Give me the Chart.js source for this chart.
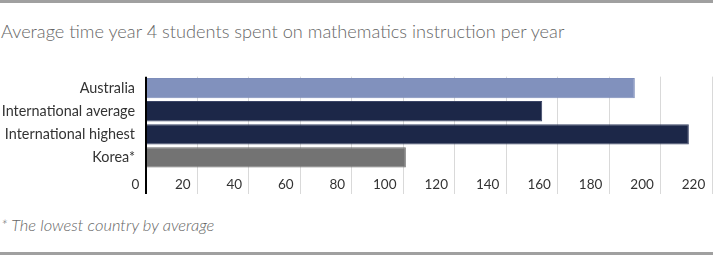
<!DOCTYPE html>
<html>
<head>
<meta charset="utf-8">
<script src="https://cdn.jsdelivr.net/npm/chart.js@4.4.0/dist/chart.umd.min.js"></script>
<style>
  body { margin: 0; background: #fff; }
  #frame { position: relative; width: 713px; height: 255px; box-sizing: border-box;
           border-top: 3px solid #a0a0a0; border-bottom: 3px solid #a0a0a0; }
  #title { position: absolute; left: 1px; top: 17px; font: 300 18.2px Lato, sans-serif; color: #666; white-space: nowrap; }
  #note { position: absolute; left: 1px; top: 212px; font: italic 300 16.5px Lato, sans-serif; color: #666; white-space: nowrap; }
  #box { position: absolute; left: 0; top: 57px; width: 718px; height: 140px; }
</style>
</head>
<body>
<div id="frame">
  <div id="title">Average time year 4 students spent on mathematics instruction per year</div>
  <div id="note">* The lowest country by average</div>
</div>
<div id="box"><canvas id="chart"></canvas></div>
<script>
var categories = ['Australia', 'International average', 'International highest', 'Korea*'];
var hours = [190, 154, 211, 101];
var barColors = ['#8191bd', '#1c2748', '#1c2748', '#737373'];
var edgeColors = ['#7d8dba', '#3a4466', '#3a4466', '#6e6e6e'];
var axisMin = 0;
var axisMax = 220;
var axisStep = 20;

var ctx = document.getElementById('chart').getContext('2d');
var myChart = new Chart(ctx, {
    type: 'bar',
    data: {
        labels: categories,
        datasets: [{
            data: hours,
            backgroundColor: barColors,
            borderColor: edgeColors,
            borderWidth: 1,
            categoryPercentage: 1,
            barPercentage: 0.88
        }]
    },
    options: {
        indexAxis: 'y',
        responsive: true,
        maintainAspectRatio: false,
        animation: false,
        layout: { padding: { top: 3, right: 6, left: 0, bottom: 0 } },
        plugins: {
            legend: { display: false },
            tooltip: { enabled: false }
        },
        scales: {
            x: {
                min: axisMin,
                max: axisMax,
                ticks: {
                    stepSize: axisStep,
                    align: 'end',
                    padding: -17,
                    color: '#333',
                    font: { family: 'Lato', size: 13.5 },
                    maxRotation: 0,
                    callback: function(v){ return v + '\u2002'; }
                },
                grid: {
                    color: function(c){ return c.index === 0 ? '#000' : '#d9d9d9'; },
                    lineWidth: function(c){ return c.index === 0 ? 2 : 1; },
                    tickLength: 25
                },
                border: { display: false },
                afterFit: function(scale){ scale.height = 28; }
            },
            y: {
                ticks: {
                    padding: 11,
                    color: '#333',
                    font: { family: 'Lato', size: 14.4 }
                },
                grid: { display: false, drawTicks: false },
                border: { display: false },
                afterFit: function(scale){ scale.width = 146; }
            }
        }
    }
});
</script>
</body>
</html>
